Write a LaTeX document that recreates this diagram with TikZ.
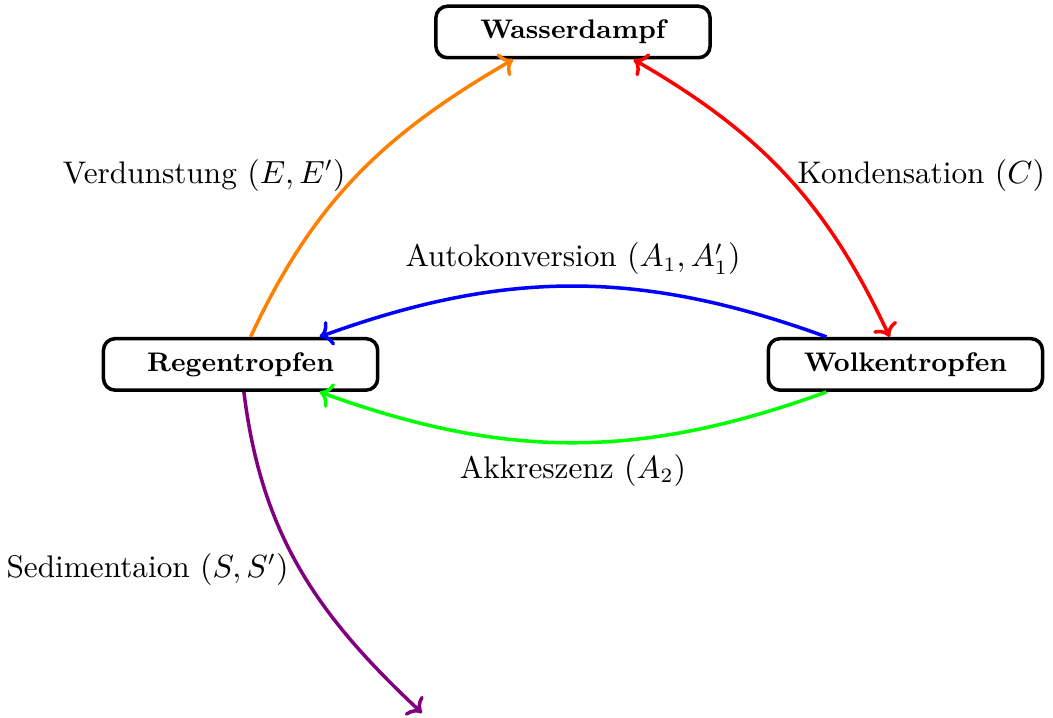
\documentclass[tikz,border=0pt]{standalone}
\usetikzlibrary{arrows.meta,calc,positioning}
\tikzset{
    phase/.style={draw, very thick, rounded corners=4pt, minimum height=0.62cm,
                  minimum width=3.3cm, inner sep=4pt, align=center,
                  font=\fontsize{9.2pt}{11pt}\selectfont\bfseries},
    process/.style={->, very thick},
    rate/.style={text=black, font=\fontsize{10.7pt}{13pt}\selectfont},
}

\begin{document}
\begin{tikzpicture}
    \useasboundingbox (-6.895,0.385) rectangle (5.776,-8.243);

    \node[phase] (dampf) at (0,0) {Wasserdampf};
    \node[phase] (regen) at (-4,-4) {Regentropfen};
    \node[phase] (wolken) at (4,-4) {Wolkentropfen};
    \coordinate (boden) at (-1.817,-8.195);

    \draw[process, orange] (regen.70) to[out=65, in=-150]
        node[left, rate] (verdunst) {Verdunstung $(E,E')$} ([xshift=-0.72cm]dampf.south);
    \draw[process, <->, red] ([xshift=0.73cm]dampf.south) to[out=-30, in=115]
        node[right, rate] (kond) {Kondensation $(C)$} ([xshift=-0.19cm]wolken.north);
    \draw[process, blue] ([xshift=-0.95cm]wolken.north) to[bend right=20]
        node[above, rate] (auto) {Autokonversion $(A_1,A_1')$} ([xshift=0.95cm]regen.north);
    \draw[process, green] ([xshift=-0.95cm]wolken.south) to[bend left=20]
        node[below, rate] (akkr) {Akkreszenz $(A_2)$} ([xshift=0.95cm]regen.south);
    \draw[process, violet] ([xshift=0.04cm]regen.south) to[out=-83, in=137]
        node[left, rate] (sedi) {Sedimentaion $(S,S')$} (boden);
\end{tikzpicture}
\end{document}
